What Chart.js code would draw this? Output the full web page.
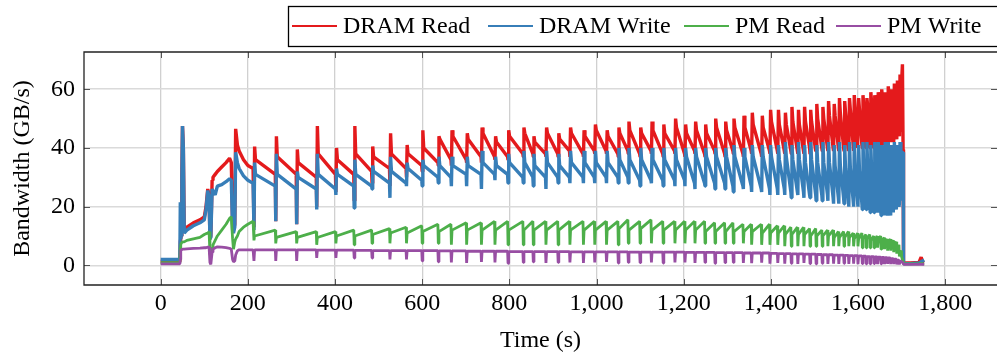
<!DOCTYPE html>
<html>
<head>
<meta charset="utf-8">
<script src="https://cdn.jsdelivr.net/npm/chart.js@4.4.1/dist/chart.umd.min.js"></script>
<style>
    html, body { margin: 0; padding: 0; background: #fff; overflow: hidden; }
    canvas { display: block; }
</style>
</head>
<body>
<canvas id="graf" width="997" height="358"></canvas>
<script>
// Popisky osí
const xZnacky = [0, 200, 400, 600, 800, 1000, 1200, 1400, 1600, 1800]
const yZnacky = [0, 20, 40, 60]
const nazvy = ['DRAM Read', 'DRAM Write', 'PM Read', 'PM Write']

// Úvod merania (0 – 212 s), odčítané body
const uvodCasy       = [0, 44, 45, 46, 47, 48.5, 50, 52, 54, 60, 75, 90, 100, 104, 108, 111, 113, 115, 118, 120, 125, 130, 140, 150, 158, 162, 165, 167, 170, 172, 176, 180, 190, 200, 212]
const uvodDramRead   = [1.3, 1.3, 8, 8, 10, 30, 47.5, 40, 12, 13, 14.5, 15.5, 16.5, 20, 26, 24, 9, 10, 29, 30, 31, 32, 33.5, 35, 36.5, 35, 14, 12, 14, 46.5, 41, 39, 36, 34, 33]
const uvodDramWrite  = [2, 2, 21.5, 9, 10, 30, 47.5, 40, 11, 12, 13.5, 14.5, 15.5, 19, 25.5, 23, 9, 9.5, 26, 26, 24, 27, 27.5, 28.5, 29.5, 29, 12, 11, 13, 38.5, 35, 33, 30.5, 29, 28]
const uvodPmRead     = [0.9, 0.9, 6, 7, 7.5, 7.5, 8, 8, 8, 8.5, 9, 9.5, 10.5, 10.8, 11, 11.5, 4, 3, 6, 7, 8.5, 10, 12, 14, 16, 16.5, 9, 5.5, 8, 9, 10, 11.5, 13, 14, 15]
const uvodPmWrite    = [0.5, 0.5, 2, 5, 5.2, 5.3, 5.5, 5.5, 5.5, 5.6, 5.8, 5.9, 6, 6, 6.2, 6.2, 1, 0.3, 4.5, 5.5, 6, 6.3, 6.2, 6, 5.8, 5.5, 2, 1.2, 1.5, 3.5, 5, 5.3, 5.3, 5.3, 5.3]

// Periodické zuby: čas udalosti (s)
const zubyCasy = [214, 264, 312, 358, 402, 444, 485, 526, 564, 600,
    637, 667, 702, 736, 767, 797, 832, 855, 884, 912,
    939, 970, 996, 1023, 1050, 1073, 1100, 1126, 1153, 1180,
    1203, 1226, 1249, 1272, 1295, 1314, 1337, 1356, 1379, 1398,
    1416, 1432, 1447, 1462, 1476, 1490, 1504, 1518, 1531, 1544,
    1556, 1568, 1579, 1590, 1600, 1610, 1619, 1628, 1637, 1645,
    1653, 1661, 1668, 1675, 1682, 1689, 1695]

// DRAM Read: pokles pri udalosti, vrchol, hodnota po odznení špičky, hodnota pred ďalšou udalosťou
const dramReadPokles = [13, 15, 14, 20, 25, 22, 28, 27, 30, 32,
    34, 34, 35, 35, 36, 36, 37, 37, 37, 37,
    37, 37, 38, 38, 37, 38, 37, 38, 37, 38,
    37, 38, 37, 38, 37, 38, 37, 38, 37, 38,
    38, 38, 38, 38, 38, 38, 39, 39, 39, 39,
    39, 39, 39, 39, 40, 40, 40, 40, 40, 40,
    41, 41, 41, 42, 42, 43, 44]
const dramReadVrchol = [40.5, 44, 39.5, 47.5, 40, 47.5, 40.5, 45, 41, 46,
    44, 46, 45, 47, 44, 46, 47, 44, 47, 45,
    47, 46, 48, 46, 47, 49, 47, 49, 48, 50,
    48, 49, 48, 50, 49, 50, 51, 52, 51, 53,
    53, 52, 54, 53, 54, 53, 55, 54, 56, 55,
    57, 56, 57, 58, 57, 58, 57, 59, 58, 59,
    60, 59, 61, 60, 62, 63, 65]
const dramReadKoleno = [36, 37, 35, 38, 36, 38, 37, 38, 38, 40,
    43, 44, 43, 45, 42, 44, 45, 42, 45, 43,
    45, 44, 46, 44, 45, 46, 45, 46, 45, 47,
    45, 46, 45, 47, 46, 47, 47, 48, 47, 49,
    48, 48, 49, 48, 49, 49, 50, 50, 51, 51,
    52, 52, 53, 53, 53, 54, 54, 55, 55, 55,
    56, 56, 57, 57, 58, 59, 61]
const dramReadZaklad = [31, 31, 30, 31, 31, 32, 33, 33, 34, 35,
    36, 36, 37, 37, 37, 38, 38, 38, 38, 39,
    38, 39, 39, 38, 39, 38, 39, 38, 39, 38,
    39, 38, 39, 38, 39, 38, 39, 38, 39, 39,
    39, 39, 39, 39, 40, 39, 40, 40, 40, 40,
    40, 40, 41, 40, 41, 41, 41, 41, 42, 41,
    42, 42, 43, 43, 44, 45, 46]

// DRAM Write
const dramWritePokles = [12, 15, 14, 19, 24, 19.5, 26, 23, 27, 27,
    28, 27, 27, 26, 29, 28, 28, 27, 26, 28,
    28, 28, 28, 28, 28, 28, 27, 28, 27, 27,
    27, 26, 27, 26, 26, 25, 26, 25, 25, 24,
    24, 24, 23, 24, 23, 23, 22, 22, 22, 21,
    21, 21, 20, 20, 20, 19, 19, 18, 18, 18,
    17, 17, 17, 17, 18, 19, 21]
const dramWriteVrchol = [35, 38, 32, 38, 33, 36, 34, 37, 35, 36,
    37, 37, 37, 39, 37, 38, 39, 38, 39, 38,
    39, 39, 39, 39, 40, 40, 40, 40, 40, 40,
    40, 40, 40, 40, 40, 41, 40, 41, 41, 41,
    41, 42, 41, 42, 41, 42, 41, 42, 42, 41,
    42, 41, 42, 42, 41, 42, 42, 41, 42, 42,
    41, 42, 42, 41, 42, 41, 42]
const dramWriteKoleno = [31, 31, 30, 31, 31, 31, 32, 32, 33, 34,
    34, 34, 34, 35, 34, 35, 35, 34, 35, 34,
    35, 35, 35, 35, 36, 36, 36, 36, 36, 36,
    37, 37, 37, 37, 37, 37, 37, 37, 37, 37,
    36, 37, 36, 36, 35, 36, 35, 35, 35, 34,
    34, 33, 33, 33, 32, 32, 32, 31, 31, 31,
    30, 30, 30, 30, 31, 31, 32]
const dramWriteZaklad = [27, 26, 26, 26, 27, 27, 28, 28, 29, 30,
    30, 31, 31, 31, 31, 30, 30, 30, 30, 30,
    30, 30, 30, 30, 30, 29, 29, 29, 29, 29,
    28, 28, 28, 28, 27, 27, 27, 26, 26, 26,
    26, 25, 25, 25, 24, 24, 24, 24, 23, 23,
    23, 22, 22, 22, 21, 21, 21, 20, 20, 19,
    19, 18, 18, 18, 19, 20, 22]

// PM Read: minimum po poklese, rýchly návrat, maximum pred ďalšou udalosťou
const pmReadMin = [8.5, 7.5, 7.5, 7, 7.5, 7, 7.5, 7.5, 7.5, 7.5,
    7.5, 7, 7, 7, 7, 7, 7, 7, 7, 7,
    7, 7, 7, 7, 7, 7.5, 7.5, 7.5, 7.5, 7.5,
    7.5, 7.5, 7.5, 7.5, 7.5, 7.5, 7.5, 7, 7, 7,
    7, 6.5, 6.5, 6.5, 6.5, 6.5, 6.5, 6.5, 6.5, 6.5,
    6.5, 6.5, 6.5, 6.5, 6.5, 6, 6, 6, 6, 6,
    5.5, 5.5, 5, 5, 4.5, 4, 3]
const pmReadStred = [10, 9.5, 9.5, 9.5, 10, 10, 10.5, 11, 11, 11.5,
    11.5, 12, 12, 12, 12, 12, 12, 12, 12, 12,
    12, 12, 12, 12, 12.5, 12, 12.5, 12, 12, 12,
    12, 12, 11.5, 11.5, 11.5, 11.5, 11.5, 11.5, 11, 11,
    11, 10.5, 10.5, 10.5, 10.5, 10, 10, 10, 10, 9.5,
    9.5, 9.5, 9.5, 9, 9, 9, 9, 8.5, 8.5, 8.5,
    8, 8, 7.5, 7.5, 7, 6, 4.5]
const pmReadMax = [12, 11.5, 11.5, 11.5, 12, 12, 12.5, 13, 13.5, 14,
    14, 14.5, 14.5, 15, 15, 15, 15, 15, 15, 15,
    15, 15, 15, 15, 15.5, 15, 15.5, 15, 15, 15,
    15, 15, 14.5, 14.5, 14.5, 14, 14, 14, 14, 13.5,
    13.5, 13, 13, 13, 12.5, 12.5, 12, 12, 12, 11.5,
    11.5, 11.5, 11, 11, 11, 10.5, 10.5, 10, 10, 10,
    9.5, 9, 9, 8.5, 8, 7, 5]

// PM Write
const pmWriteMin = [1.5, 1.5, 1.5, 2.5, 2.5, 2.5, 2.5, 2, 2, 1.5,
    1.2, 1, 0.8, 1.2, 1, 0.7, 1, 1.2, 0.8, 1,
    1, 0.8, 1, 1.2, 0.8, 1, 0.9, 1, 0.8, 1,
    1, 0.8, 1, 0.7, 0.9, 1, 0.8, 0.7, 0.9, 0.6,
    0.8, 0.6, 0.7, 0.5, 0.8, 0.6, 0.5, 0.7, 0.5, 0.6,
    0.5, 0.7, 0.5, 0.6, 0.4, 0.6, 0.5, 0.5, 0.6, 0.4,
    0.5, 0.4, 0.5, 0.4, 0.4, 0.3, 0.3]
const pmWriteMax = [5.3, 5.3, 5.3, 5.2, 5.2, 5.1, 5.0, 5.0, 5.0, 5.0,
    4.9, 4.9, 4.8, 4.8, 4.8, 4.7, 4.7, 4.7, 4.7, 4.7,
    4.6, 4.6, 4.6, 4.6, 4.6, 4.5, 4.5, 4.5, 4.5, 4.5,
    4.4, 4.4, 4.4, 4.3, 4.3, 4.3, 4.2, 4.2, 4.2, 4.1,
    4.0, 4.0, 3.9, 3.9, 3.8, 3.8, 3.7, 3.6, 3.6, 3.5,
    3.5, 3.4, 3.3, 3.3, 3.2, 3.1, 3.0, 3.0, 2.9, 2.8,
    2.7, 2.6, 2.5, 2.3, 2.1, 1.8, 1.4]

// Koniec merania
const koniecCasy       = [1700, 1702, 1703.5, 1704.5, 1720, 1740, 1745, 1748, 1752]
const koniecDramRead   = [62, 68.5, 39.5, 0.8, 0.8, 1.0, 2.8, 1.2, 1.0]
const koniecDramWrite  = [22, 38.5, 38.5, 0.6, 0.6, 0.8, 1.2, 1.5, 1.8]
const koniecPmRead     = [3, 2, 1.2, 0.5, 0.5, 0.5, 0.7, 0.5, 0.5]
const koniecPmWrite    = [1.2, 1, 0.8, 0.3, 0.3, 0.3, 0.4, 0.3, 0.3]

// Zostavenie bodov série: úvod, zuby (pokles, vrchol, koleno, základ), koniec
function zostavSeriu(uvod, pokles, vrchol, koleno, zaklad, koniec) {
    const body = uvodCasy.map((t, i) => ({ x: t, y: uvod[i] }))
    zubyCasy.forEach((t, i) => {
        const dalsi = i < zubyCasy.length - 1 ? zubyCasy[i + 1] : koniecCasy[0]
        body.push({ x: t, y: pokles[i] })
        body.push({ x: t + 1.5, y: vrchol[i] })
        if (koleno) body.push({ x: t + 3.5, y: koleno[i] })
        body.push({ x: dalsi - 1, y: zaklad[i] })
    })
    koniecCasy.forEach((t, i) => body.push({ x: t, y: koniec[i] }))
    return body
}

const farby = ['#e41a1c', '#377eb8', '#4daf4a', '#984ea3']
const hrubky = [3.4, 3.4, 2.8, 2.8]
const pismo = "'Liberation Serif', 'Times New Roman', serif"

// Legenda v rámčeku, rám grafu a značky
const ramcek = {
    id: 'ramcek',
    afterDraw(chart) {
        const { ctx, chartArea: a, scales } = chart
        ctx.save()

        const ciara = (x1, y1, x2, y2) => {
            ctx.beginPath()
            ctx.moveTo(x1, y1)
            ctx.lineTo(x2, y2)
            ctx.stroke()
        }

        // značky dovnútra
        ctx.strokeStyle = '#555'
        ctx.lineWidth = 1
        scales.x.ticks.forEach(t => {
            const px = Math.round(scales.x.getPixelForValue(t.value)) + 0.5
            ciara(px, a.bottom, px, a.bottom - 6)
            ciara(px, a.top, px, a.top + 6)
        })
        scales.y.ticks.forEach(t => {
            const py = Math.round(scales.y.getPixelForValue(t.value)) + 0.5
            ciara(a.left, py, a.left + 6, py)
            ciara(a.right, py, a.right - 6, py)
        })

        // rám
        ctx.strokeStyle = '#222'
        ctx.lineWidth = 1.3
        ctx.beginPath()
        ctx.moveTo(a.right + 5, a.top)
        ctx.lineTo(a.left, a.top)
        ctx.lineTo(a.left, a.bottom)
        ctx.lineTo(a.right + 5, a.bottom)
        ctx.stroke()

        // legenda
        ctx.strokeStyle = '#000'
        ctx.lineWidth = 1.3
        ctx.strokeRect(288.5, 6.5, 720, 40)
        const zaciatky = [292, 488, 684, 836]
        ctx.font = '24px ' + pismo
        ctx.fillStyle = '#000'
        ctx.textBaseline = 'alphabetic'
        nazvy.forEach((n, i) => {
            ctx.strokeStyle = farby[i]
            ctx.lineWidth = 2.2
            ciara(zaciatky[i], 26, zaciatky[i] + 45, 26)
            ctx.fillText(n, zaciatky[i] + 51, 33)
        })
        ctx.restore()
    }
}

const uvody = [uvodDramRead, uvodDramWrite, uvodPmRead, uvodPmWrite]
const poklesy = [dramReadPokles, dramWritePokles, pmReadMin, pmWriteMin]
const vrcholy = [dramReadVrchol, dramWriteVrchol, pmReadStred, pmWriteMax]
const kolena = [dramReadKoleno, dramWriteKoleno, null, null]
const zaklady = [dramReadZaklad, dramWriteZaklad, pmReadMax, pmWriteMax]
const konce = [koniecDramRead, koniecDramWrite, koniecPmRead, koniecPmWrite]

const datasets = nazvy.map((n, i) => ({
    label: n,
    data: zostavSeriu(uvody[i], poklesy[i], vrcholy[i], kolena[i], zaklady[i], konce[i]),
    borderColor: farby[i],
    backgroundColor: farby[i],
    borderWidth: hrubky[i],
    borderJoinStyle: 'bevel',
    pointRadius: 0,
    tension: 0,
    fill: false,
    order: 4 - i
}))

new Chart(document.getElementById('graf').getContext('2d'), {
    type: 'line',
    data: { datasets },
    options: {
        responsive: false,
        animation: false,
        layout: { padding: { top: 52, left: 0, right: 0, bottom: 0 } },
        plugins: {
            legend: { display: false },
            tooltip: { enabled: false }
        },
        scales: {
            x: {
                type: 'linear',
                min: -176,
                max: 1919,
                afterBuildTicks: s => { s.ticks = xZnacky.map(v => ({ value: v })) },
                afterFit: s => { s.height = 73 },
                grid: { color: '#d0d0d0', lineWidth: 1.3, drawTicks: false },
                border: { display: false },
                ticks: {
                    color: '#000',
                    font: { family: pismo, size: 24 },
                    padding: 4,
                    maxRotation: 0,
                    autoSkip: false,
                    callback: v => v.toLocaleString('en-US')
                },
                title: {
                    display: true,
                    text: 'Time (s)',
                    color: '#000',
                    font: { family: pismo, size: 24 },
                    padding: { top: 0, bottom: 3 }
                }
            },
            y: {
                min: -6.7,
                max: 72.7,
                afterBuildTicks: s => { s.ticks = yZnacky.map(v => ({ value: v })) },
                afterFit: s => { s.width = 84 },
                grid: { color: '#dadada', lineWidth: 1.6, drawTicks: false },
                border: { display: false },
                ticks: {
                    color: '#000',
                    font: { family: pismo, size: 24 },
                    padding: 9
                },
                title: {
                    display: true,
                    text: 'Bandwidth (GB/s)',
                    color: '#000',
                    font: { family: pismo, size: 24 },
                    padding: { top: 8, bottom: 0 }
                }
            }
        }
    },
    plugins: [ramcek]
})
</script>
</body>
</html>
